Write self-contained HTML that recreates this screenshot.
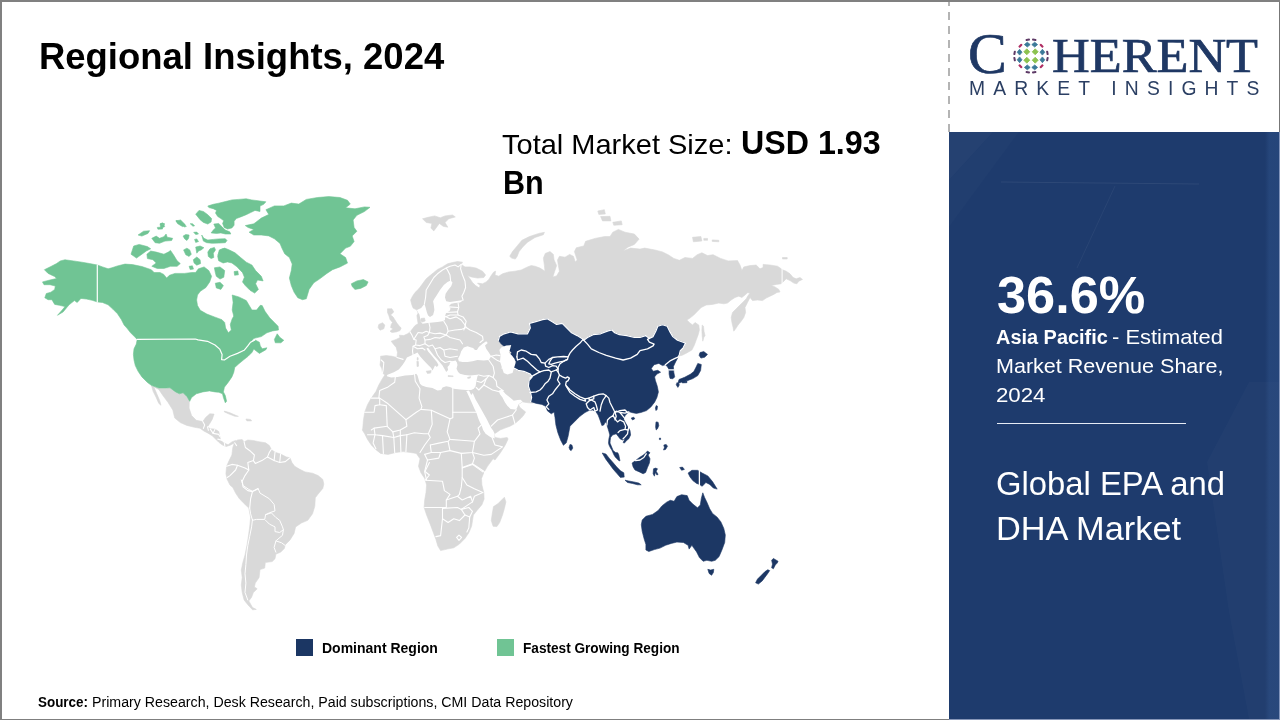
<!DOCTYPE html>
<html lang="en">
<head>
<meta charset="utf-8">
<title>Regional Insights, 2024</title>
<style>
html,body{margin:0;padding:0;}
body{width:1280px;height:720px;overflow:hidden;background:#fff;position:relative;font-family:"Liberation Sans",sans-serif;color:#000;}
.abs{position:absolute;white-space:nowrap;transform-origin:0 0;line-height:1;}
#bt{left:0;top:0;width:1280px;height:2px;background:#808080;}
#bl{left:0;top:0;width:2px;height:720px;background:#808080;}
#br1{left:1278.8px;top:0;width:1.2px;height:132px;background:#777;}
#br2{left:1278.8px;top:132px;width:1.2px;height:588px;background:#8093ba;}
#strip{left:1265px;top:132px;width:14px;height:586.5px;background:linear-gradient(to right,rgba(60,100,160,0),rgba(60,100,160,0.25) 30%,rgba(60,100,160,0.25));}
#bb{left:0;top:718.5px;width:949px;height:1.5px;background:#7f7f7f;}
#bb2{left:949px;top:718.5px;width:331px;height:1.5px;background:#8796b8;}
#panel{left:949px;top:132px;width:331px;height:586.5px;background:#1e3b6d;}
#dash{left:948px;top:0;width:2px;height:132px;background:repeating-linear-gradient(to bottom,#b4b4b4 0,#b4b4b4 8.5px,transparent 8.5px,transparent 14px);background-position:0 -2px;}
.w{color:#fff;}
#title{font-weight:bold;}
.lg{font-family:"Liberation Serif",serif;color:#1f3864;-webkit-text-stroke:0.7px #1f3864;}
#lgC{left:968px;top:24.7px;font-size:58px;}
#lgH{left:1051.9px;top:32.2px;font-size:48.5px;transform:scaleX(1.077);}
#lgM{left:969px;top:78.5px;font-size:19.3px;letter-spacing:8.14px;color:#2b3f63;}
#globe{left:1010.6px;top:35.9px;}
#title{left:38.97px;top:38.16px;font-size:37.38px;transform:scaleX(0.9754);}
#tms1a{left:501.78px;top:130.29px;font-size:28.48px;transform:scaleX(1.0188);}
#tms1b{left:740.82px;top:126.83px;font-size:32.57px;transform:scaleX(0.9884);}
#tms2{left:503.12px;top:166.83px;font-size:32.57px;transform:scaleX(0.9385);}
#pct{left:996.78px;top:269.76px;font-size:51.44px;transform:scaleX(1.0175);}
#ap1a{left:995.76px;top:325.8px;font-size:21.14px;transform:scaleX(0.9427);}
#ap1b{left:1111.76px;top:325.8px;font-size:21.14px;transform:scaleX(1.0375);}
#ap2{left:995.66px;top:354.8px;font-size:21.14px;transform:scaleX(1.0196);}
#ap3{left:996.15px;top:383.8px;font-size:21.14px;transform:scaleX(1.0533);}
#gl1{left:995.75px;top:467.93px;font-size:32.8px;transform:scaleX(0.9998);}
#gl2{left:995.86px;top:512.93px;font-size:32.8px;transform:scaleX(1.0466);}
#lt1{left:322.02px;top:640.75px;font-size:14.24px;transform:scaleX(0.9836);}
#lt2{left:522.54px;top:640.75px;font-size:14.24px;transform:scaleX(0.9562);}
#srca{left:38.36px;top:694.75px;font-size:14.24px;transform:scaleX(0.9431);}
#srcb{left:92.0px;top:694.75px;font-size:14.24px;transform:scaleX(0.9967);}
#hr{left:997px;top:422.6px;width:189px;height:1.4px;background:#e6ebf5;}
#lg1{left:296px;top:639px;width:17px;height:17px;background:#1b3663;}
#lg2{left:497px;top:639px;width:17px;height:17px;background:#70c494;}
</style>
</head>
<body>
<div class="abs" id="panel"></div>
<svg class="abs" id="tex" style="left:949px;top:132px" width="331" height="587" viewBox="0 0 331 587">
<polygon points="0,0 44,0 0,48" fill="#fff" fill-opacity="0.03"/>
<polygon points="0,48 44,0 70,0 0,95" fill="#fff" fill-opacity="0.015"/>
<line x1="52" y1="50" x2="250" y2="52" stroke="#fff" stroke-opacity="0.07" stroke-width="1"/>
<line x1="166" y1="54" x2="128" y2="136" stroke="#fff" stroke-opacity="0.05" stroke-width="1"/>
<polygon points="258,330 300,250 331,250 331,587 300,587 280,480" fill="#fff" fill-opacity="0.02"/>
</svg>
<div class="abs" id="dash"></div>

<!--MAPSTART--><svg class="abs" id="map" style="left:0;top:0" width="949" height="720" viewBox="0 0 949 720">
<path d="M151.3,385.6 L158.8,388.4 L166.3,388.4 L170.0,387.9 L175.6,392.2 L179.4,394.1 L183.1,393.1 L186.9,396.9 L189.3,401.0 L189.1,408.1 L191.6,415.6 L196.3,420.3 L202.8,421.6 L205.6,417.5 L209.8,413.8 L214.1,414.1 L212.2,419.4 L209.4,424.1 L207.5,426.9 L210.3,428.8 L215.0,429.1 L218.8,431.6 L219.7,436.3 L220.6,440.0 L223.4,442.8 L228.1,444.7 L231.9,441.9 L235.6,440.4 L234.7,442.8 L230.0,445.3 L226.3,446.4 L222.5,445.1 L218.8,442.3 L215.0,438.5 L212.2,435.7 L207.5,432.9 L203.8,431.0 L200.0,428.2 L194.4,427.3 L186.9,425.4 L180.3,422.6 L174.7,417.9 L172.8,410.0 L168.1,402.5 L162.5,395.0 L158.8,389.4Z M151.6,386.0 L154.1,387.5 L156.9,394.1 L159.7,400.6 L161.0,405.3 L158.8,403.4 L155.9,396.9 L153.1,391.3Z M224.4,411.1 L230.0,412.8 L235.6,415.3 L238.4,416.4 L234.7,416.2 L229.1,414.1 L224.4,411.9Z M245.9,419.0 L250.6,419.4 L251.6,420.9 L246.9,420.9Z M234.7,441.9 L237.5,440.0 L242.2,439.6 L244.1,441.9 L247.8,440.0 L252.5,440.4 L260.0,441.9 L265.6,442.8 L269.4,445.6 L271.3,449.4 L275.0,452.2 L280.6,454.1 L286.3,456.9 L290.0,457.8 L291.9,462.5 L294.7,466.3 L299.4,469.1 L305.0,471.9 L312.5,473.2 L318.1,475.6 L322.8,479.4 L323.8,484.1 L322.8,488.4 L318.1,494.1 L315.3,497.8 L314.8,506.3 L312.5,513.8 L307.8,520.3 L301.3,523.1 L295.6,526.9 L294.1,533.4 L290.0,540.0 L285.3,544.7 L284.4,548.4 L280.6,552.2 L275.9,554.1 L275.0,558.8 L272.2,561.6 L265.3,562.5 L264.7,568.1 L260.0,569.6 L259.1,577.5 L255.3,583.1 L254.4,586.9 L257.2,588.8 L253.4,592.5 L251.6,597.2 L248.8,600.9 L252.5,607.5 L256.3,609.4 L252.5,609.8 L247.8,604.7 L244.1,600.0 L242.2,592.5 L241.3,585.0 L242.2,577.5 L241.3,570.0 L242.8,562.5 L245.0,555.0 L246.9,545.6 L248.4,536.3 L249.7,526.9 L250.6,517.5 L248.8,508.1 L245.0,504.4 L239.4,498.8 L235.6,493.1 L232.8,487.5 L230.0,485.1 L227.2,479.4 L225.9,473.8 L226.6,466.3 L229.1,460.6 L231.9,455.0 L232.8,447.5Z M387.5,374.0 L385.0,375.0 L382.5,373.1 L381.9,368.8 L380.0,365.0 L380.6,360.0 L380.6,356.2 L386.2,355.6 L391.9,356.2 L396.9,357.5 L397.5,352.5 L396.2,347.5 L393.1,343.8 L391.2,341.2 L396.2,339.4 L400.0,337.5 L399.4,335.2 L403.8,335.6 L407.5,333.8 L410.0,331.9 L412.5,328.8 L415.0,325.6 L418.1,323.8 L417.5,320.0 L416.9,315.6 L418.1,313.1 L416.9,310.0 L413.1,308.1 L411.9,305.0 L410.6,300.0 L412.5,296.2 L415.0,292.5 L418.8,288.8 L422.5,283.8 L426.2,278.8 L430.0,275.6 L433.8,272.5 L437.5,269.4 L442.5,266.9 L447.5,263.8 L452.5,262.5 L457.5,261.5 L462.5,262.2 L461.2,264.4 L465.0,266.9 L470.0,266.9 L476.2,268.1 L482.5,271.2 L485.6,275.0 L483.8,277.5 L477.5,278.1 L471.2,276.9 L467.5,275.6 L470.0,278.8 L472.5,282.5 L475.6,285.6 L479.4,288.1 L480.0,285.6 L477.5,283.1 L482.5,283.8 L486.2,281.9 L488.8,279.4 L491.2,275.6 L493.8,271.9 L495.6,271.2 L495.0,275.0 L498.8,276.2 L502.5,273.8 L508.8,271.9 L515.0,271.2 L521.2,270.0 L527.5,266.9 L531.2,265.6 L535.0,266.2 L540.0,268.1 L545.0,271.2 L544.4,265.6 L543.4,258.1 L545.3,253.4 L550.0,251.6 L553.4,254.4 L554.1,260.0 L556.6,265.6 L554.7,271.3 L552.8,276.9 L556.6,275.9 L559.4,271.3 L558.4,265.6 L557.5,260.0 L559.4,256.3 L565.0,257.2 L569.7,254.4 L573.4,256.3 L575.3,261.9 L577.2,260.0 L574.4,251.6 L576.3,247.8 L583.8,245.9 L585.6,241.3 L595.0,238.4 L604.4,236.6 L610.0,236.6 L612.8,232.2 L618.4,229.4 L625.0,232.2 L634.4,234.1 L639.1,239.1 L634.4,244.4 L627.8,247.2 L623.1,250.9 L630.6,248.1 L640.0,249.1 L644.7,248.1 L655.0,250.0 L662.5,251.9 L668.1,254.7 L673.8,258.4 L679.4,260.3 L685.0,257.5 L692.5,258.4 L697.2,254.7 L701.9,252.8 L707.5,255.6 L713.1,254.7 L720.6,258.4 L728.1,260.9 L737.5,260.6 L740.0,265.0 L741.9,270.6 L743.8,266.9 L750.0,265.6 L756.2,265.0 L760.0,268.8 L763.1,267.5 L763.1,264.4 L770.0,265.0 L777.5,266.2 L781.2,268.8 L783.1,270.0 L786.2,271.2 L790.0,273.8 L793.1,277.5 L796.2,278.8 L800.0,277.5 L802.5,279.4 L798.8,281.2 L796.9,283.8 L793.8,283.1 L790.0,280.6 L786.2,278.8 L783.8,281.2 L781.2,283.8 L776.2,284.4 L771.2,285.6 L775.0,286.9 L778.8,289.4 L780.0,291.9 L776.9,292.5 L773.8,294.4 L770.0,296.2 L766.2,298.1 L762.5,300.6 L757.5,300.0 L752.5,300.6 L750.0,297.5 L747.5,302.5 L745.0,307.5 L745.6,312.5 L743.8,317.5 L741.2,321.2 L738.1,325.0 L735.6,328.8 L733.8,331.2 L733.1,327.5 L731.9,322.5 L731.2,317.5 L732.5,312.5 L736.2,308.8 L740.0,305.0 L743.1,301.9 L746.2,298.8 L748.1,295.6 L750.0,293.1 L747.5,292.8 L745.0,295.0 L741.9,297.5 L738.8,296.2 L735.0,297.5 L731.2,300.0 L727.5,303.1 L723.8,303.8 L718.8,303.1 L712.5,304.4 L706.2,305.0 L701.2,307.5 L697.5,311.2 L693.8,315.0 L690.0,318.1 L686.9,320.0 L689.4,322.5 L692.5,325.0 L695.0,322.5 L698.8,325.0 L699.4,330.0 L698.1,335.0 L696.2,340.0 L694.4,345.0 L691.9,350.0 L685.9,353.4 L682.2,355.3 L679.0,355.9 L664,352 L636,375 L545,395 L533.1,403.1 L531.2,403.1 L526.2,402.5 L522.2,401.8 L520.0,403.4 L518.4,404.5 L520.0,407.5 L523.1,410.0 L525.6,411.9 L523.8,415.0 L521.2,418.1 L515.6,423.1 L510.0,426.2 L505.0,428.1 L500.0,430.0 L498.8,430.9 L494.1,434.1 L495.0,437.5 L500.6,438.4 L507.2,437.5 L508.1,439.0 L505.3,445.0 L500.6,452.5 L495.0,460.0 L493.1,458.8 L487.5,466.3 L483.8,472.8 L481.5,478.4 L481.9,485.0 L483.8,492.5 L484.1,499.1 L481.9,504.7 L477.2,510.3 L473.4,515.0 L472.5,520.6 L471.6,526.3 L468.8,532.8 L465.0,538.4 L459.4,544.1 L453.8,547.8 L447.2,549.1 L440.6,550.6 L437.8,545.9 L435.9,539.4 L433.1,531.9 L430.3,524.4 L426.6,515.0 L424.1,507.5 L424.7,500.0 L426.0,492.5 L426.6,485.0 L424.7,478.4 L420.9,472.8 L418.5,466.3 L420.0,458.8 L416.3,453.4 L410.6,452.5 L403.1,451.6 L395.6,452.5 L388.1,454.4 L380.6,453.4 L375.9,449.7 L371.3,445.0 L367.5,439.4 L364.7,433.8 L362.3,430.0 L362.8,428.1 L363.4,420.6 L364.7,412.2 L367.5,404.7 L371.3,398.1 L375.9,391.6 L378.8,385.0 L382.5,378.4 L386.3,372.8Z M504.4,497.2 L505.9,501.9 L504.4,508.4 L502.5,515.0 L499.7,522.5 L496.9,526.6 L493.1,526.3 L491.3,520.6 L492.2,514.1 L493.5,506.6 L497.8,503.8 L501.6,500.0Z M378.8,324.4 L382.5,322.8 L384.8,325.0 L383.8,328.8 L380.0,330.2 L378.1,327.5Z M387.5,308.8 L391.9,308.8 L393.8,311.9 L390.6,315.0 L393.1,316.9 L395.0,320.0 L396.9,323.1 L399.4,326.2 L401.2,328.1 L400.0,330.6 L396.2,331.9 L391.9,332.5 L390.0,331.2 L393.1,328.8 L390.6,327.5 L391.2,324.4 L392.5,322.5 L390.0,319.4 L388.8,315.6 L387.5,312.5Z M509.7,256.3 L512.5,251.6 L517.2,245.9 L521.9,240.3 L529.4,236.6 L538.8,233.4 L544.4,232.3 L543.4,234.7 L535.0,237.5 L527.5,242.2 L522.8,246.9 L519.1,251.6 L517.2,256.3 L515.3,259.1 L511.6,258.1Z M422.5,218.8 L428.1,217.3 L434.7,215.9 L440.3,217.8 L445.0,215.9 L452.5,215.0 L455.3,216.9 L448.8,218.8 L445.0,222.5 L447.8,227.2 L443.1,226.3 L439.4,223.4 L436.6,227.2 L433.8,230.9 L430.9,228.1 L431.9,223.4 L426.3,222.5Z M597.8,211.0 L604.4,209.7 L605.3,214.0 L598.8,214.4Z M600.6,216.6 L610.0,216.3 L610.9,220.9 L602.5,220.9Z M612.8,222.3 L621.3,220.9 L622.2,224.7 L613.8,225.3Z M692.5,237.3 L700.9,236.5 L701.9,241.0 L693.4,241.8Z M703.8,238.4 L707.5,238.4 L707.5,240.3 L703.8,240.3Z M712.2,239.9 L718.8,240.3 L718.8,241.8 L712.2,241.4Z M782.5,257.5 L787.2,257.5 L787.2,259.0 L782.5,259.0Z M702.2,325.0 L703.5,326.2 L704.0,331.2 L705.0,335.6 L703.8,337.5 L702.8,341.2 L702.2,336.2 L701.9,330.0Z" fill="#d9d9d9" stroke="#d9d9d9" stroke-width="0.6" stroke-linejoin="round"/>
<path d="M245.3,225.6 L253.8,223.8 L261.3,218.1 L268.8,214.4 L265.9,209.7 L274.4,205.9 L283.8,205.9 L291.3,203.1 L298.8,204.1 L306.3,199.4 L317.5,197.5 L328.8,196.6 L340.0,197.5 L347.5,200.3 L350.3,204.1 L345.6,207.8 L355.0,208.8 L364.4,206.9 L370.0,207.3 L364.4,211.6 L356.9,215.3 L353.1,220.0 L354.1,227.5 L356.9,231.3 L352.2,235.9 L354.1,241.6 L350.3,246.3 L345.6,248.1 L340.0,253.8 L345.6,257.5 L347.5,263.1 L340.0,266.9 L332.5,269.7 L326.9,273.4 L319.4,279.1 L313.8,282.8 L309.1,289.4 L306.3,298.8 L302.5,299.7 L297.8,297.8 L294.1,292.2 L291.3,285.6 L289.4,278.1 L291.3,270.6 L292.2,264.1 L289.4,257.5 L284.7,253.8 L281.9,248.1 L280.0,243.4 L274.4,238.8 L268.8,235.9 L261.3,235.0 L253.8,235.0 L249.1,232.2 L253.8,229.4 L248.1,227.5Z M351.3,283.8 L356.9,280.9 L363.4,279.6 L368.1,281.9 L366.3,285.6 L360.6,288.4 L355.0,289.4 L352.2,286.6Z M220.0,250.0 L224.7,248.1 L229.4,250.0 L235.0,252.8 L240.6,257.5 L246.3,262.2 L251.9,265.0 L255.6,270.6 L261.3,276.3 L263.1,280.9 L257.5,280.0 L255.6,283.8 L258.4,289.4 L254.7,293.1 L250.0,290.3 L245.3,285.6 L242.5,281.9 L244.4,277.2 L242.5,272.5 L238.8,268.8 L235.0,263.1 L229.4,259.4 L223.8,262.2 L219.1,260.3 L218.1,254.7Z M131.0,254.2 L133.7,246.0 L139.2,244.4 L147.4,246.6 L150.7,248.8 L146.3,251.0 L141.9,254.2 L136.5,258.1Z M146.9,254.2 L150.7,251.0 L156.2,252.1 L163.9,254.2 L168.3,252.1 L170.5,250.4 L173.8,255.3 L177.1,260.8 L180.3,263.6 L177.1,266.3 L170.5,266.3 L163.9,268.5 L157.3,268.5 L151.8,266.3 L156.2,263.0 L152.9,259.7 L147.4,258.6Z M138.1,235.0 L143.6,231.2 L149.6,230.7 L148.0,233.4 L141.9,236.1Z M151.8,238.3 L156.2,236.1 L159.5,238.3 L163.9,236.7 L166.1,234.0 L167.2,237.2 L172.7,238.3 L171.6,240.5 L165.0,241.1 L159.5,243.3 L155.1,242.7Z M157.3,227.4 L162.2,227.0 L162.6,229.0 L157.9,229.2Z M160.6,223.7 L164.4,223.5 L164.4,224.8 L160.8,225.1Z M176.0,220.5 L179.2,221.3 L183.6,224.1 L186.4,226.3 L184.7,227.0 L180.3,224.6 L177.1,222.4Z M190.2,223.7 L192.4,223.7 L194.6,225.7 L193.0,226.3Z M195.7,214.2 L199.0,210.4 L203.4,211.5 L207.8,214.7 L211.6,218.6 L211.1,221.9 L207.8,224.1 L203.4,222.4 L200.1,219.7 L197.9,216.9Z M207.8,206.0 L213.3,204.3 L218.7,203.2 L225.3,201.6 L231.9,199.9 L238.5,199.4 L246.2,198.8 L251.7,199.9 L260.0,201.0 L265.9,201.8 L263.7,204.3 L260.0,206.0 L260.0,211.5 L255.0,210.4 L250.6,212.6 L246.2,214.7 L240.7,216.9 L236.3,218.6 L234.1,221.3 L234.1,225.2 L231.9,227.9 L227.5,229.0 L224.2,227.4 L222.6,223.5 L223.7,220.8 L220.9,218.6 L217.7,216.4 L215.5,213.1 L216.6,210.4 L213.3,208.7 L208.9,207.6Z M213.8,224.1 L218.7,223.5 L222.0,226.8 L225.3,230.1 L229.7,231.8 L230.8,234.0 L225.3,234.0 L220.9,232.9 L216.6,233.4 L211.1,232.9 L213.3,230.1 L215.5,227.9Z M201.7,235.0 L203.9,238.3 L207.8,240.0 L213.3,239.4 L218.7,238.9 L225.3,238.7 L227.0,240.5 L225.3,242.7 L218.7,243.1 L212.2,243.3 L206.7,242.7 L203.4,241.1Z M183.1,236.1 L185.8,234.5 L189.1,235.0 L188.6,238.3 L186.9,240.5 L184.7,238.9Z M194.6,239.4 L196.8,238.9 L198.5,241.6 L195.7,242.4Z M193.7,232.3 L196.8,232.1 L198.5,234.0 L195.7,234.5Z M183.6,249.9 L186.9,248.2 L189.7,249.9 L191.3,254.2 L189.1,256.4 L185.8,254.8Z M195.7,247.1 L200.1,246.0 L203.9,247.7 L201.2,249.9 L198.5,251.0 L196.8,253.2Z M193.3,259.7 L196.8,257.0 L200.1,259.7 L200.6,263.6 L196.8,265.2 L194.1,263.0Z M207.8,252.1 L210.0,248.8 L214.4,247.4 L215.5,249.9 L213.3,253.2 L213.8,257.5 L211.1,258.6 L208.3,256.4Z M219.3,249.9 L223.1,248.5 L225.9,249.9 L227.0,254.2 L229.7,256.4 L234.1,257.5 L238.5,260.8 L242.9,264.1 L247.3,267.4 L251.7,270.7 L255.0,274.0 L244.0,274.0 L240.7,269.6 L236.3,266.3 L231.9,263.0 L227.5,261.9 L223.1,263.0 L218.7,260.8 L217.7,256.4Z M189.1,266.3 L192.4,265.8 L193.5,269.1 L190.2,269.6Z M214.4,267.8 L220.0,266.9 L224.7,270.6 L223.8,277.2 L220.0,279.1 L216.3,276.3 L215.3,272.5Z M215.3,283.2 L220.0,282.3 L223.4,285.6 L220.9,289.4 L216.3,287.9Z M97.3,265.0 L89.4,263.5 L81.9,262.2 L73.4,260.9 L65.0,259.8 L60.3,260.9 L56.6,263.5 L50.9,266.5 L44.4,269.7 L48.1,273.4 L54.7,276.6 L56.6,278.5 L50.0,280.0 L42.5,281.9 L44.0,284.7 L50.0,284.7 L55.3,286.0 L54.7,289.4 L50.9,292.2 L46.3,293.5 L44.8,297.8 L48.1,299.7 L51.9,299.7 L54.7,304.4 L59.4,305.3 L65.0,306.6 L62.2,310.0 L57.5,315.3 L63.1,311.9 L69.1,304.8 L74.4,300.6 L77.2,302.5 L80.9,298.4 L86.6,299.1 L92.2,300.3 L97.3,301.9 L102.5,302.5 L108.1,304.8 L112.8,309.1 L117.5,313.8 L121.3,319.4 L124.1,325.0 L126.9,328.1 L130.6,332.8 L134.4,336.6 L137.2,339.4 L136.3,344.1 L134.0,348.8 L133.4,354.4 L134.0,360.0 L135.3,365.6 L138.1,371.3 L141.9,376.9 L147.5,382.5 L151.3,385.3 L158.8,388.1 L166.3,388.1 L170.0,387.8 L175.6,391.9 L179.4,393.8 L183.1,392.8 L186.9,396.6 L189.7,401.3 L191.6,397.5 L196.3,393.8 L202.8,391.9 L209.4,390.9 L215.0,391.9 L218.8,392.3 L222.5,393.8 L223.4,397.5 L225.3,402.8 L226.6,401.3 L225.3,395.6 L223.4,391.9 L224.4,387.2 L228.1,382.5 L231.9,376.9 L233.8,372.2 L234.7,367.5 L238.8,363.8 L243.4,360.0 L248.1,356.3 L251.9,352.5 L253.8,349.1 L259.4,353.4 L265.9,349.7 L266.9,347.8 L262.2,348.8 L260.3,345.9 L259.4,342.2 L255.6,340.3 L250.0,342.8 L253.8,338.4 L261.3,336.6 L266.9,332.8 L272.5,330.9 L278.5,330.0 L278.1,326.3 L274.4,322.5 L269.7,317.8 L265.0,311.3 L262.2,305.6 L260.3,305.3 L256.6,310.0 L251.9,310.0 L249.1,305.3 L246.3,300.6 L238.8,296.9 L232.2,295.0 L233.1,302.5 L232.2,310.0 L234.1,317.5 L235.0,325.0 L235.9,307.5 L235.0,314.1 L232.2,318.8 L230.3,324.4 L231.3,330.0 L228.4,332.8 L225.6,328.1 L224.7,322.5 L221.9,319.7 L214.4,316.9 L206.9,314.1 L200.3,310.3 L197.5,305.6 L196.6,300.0 L197.5,295.0 L200.3,291.3 L205.9,287.5 L209.7,281.9 L211.6,276.3 L208.8,270.6 L204.1,266.9 L198.4,268.8 L195.6,272.5 L191.9,272.5 L184.4,273.4 L175.0,273.4 L169.4,275.3 L166.6,278.1 L163.8,274.4 L160.0,272.5 L154.1,272.5 L151.3,269.7 L141.9,266.5 L132.5,264.6 L125.0,264.1 L117.5,265.9 L111.9,267.8 L108.1,268.8 L102.5,266.9Z M274.4,339.4 L277.2,333.8 L280.0,337.5 L283.8,340.3 L280.9,342.8 L275.3,342.8Z M160.0,223.8 L162.8,222.8 L164.7,226.6 L160.9,228.4Z M175.9,220.9 L180.6,220.0 L185.3,224.7 L182.5,226.6 L177.8,223.8Z M234.1,271.6 L237.8,271.0 L238.4,274.8 L234.6,275.3Z" fill="#70c494" stroke="#70c494" stroke-width="0.6" stroke-linejoin="round"/>
<path d="M499.4,336.6 L504.1,333.8 L510.6,331.9 L518.1,333.8 L527.5,333.8 L530.3,328.1 L529.4,323.4 L535.9,321.6 L542.5,319.7 L547.2,318.8 L551.9,321.6 L556.6,324.4 L562.2,323.4 L566.9,328.1 L571.6,332.8 L577.2,335.6 L581.9,338.4 L583.8,340.3 L587.5,337.5 L593.1,334.7 L600.6,333.8 L608.1,330.9 L611.9,330.0 L614.7,332.8 L619.4,334.7 L626.9,335.6 L634.4,337.5 L640.0,337.5 L645.6,335.6 L649.4,338.4 L653.1,336.6 L655.9,330.9 L657.8,326.3 L662.5,324.8 L667.2,326.3 L670.0,331.9 L672.8,336.6 L677.5,340.3 L683.1,342.2 L685.6,343.1 L683.1,347.8 L680.3,350.6 L679.4,354.4 L678.1,357.2 L675.6,361.9 L673.4,366.6 L673.8,372.2 L674.7,376.9 L672.8,378.8 L670.0,378.4 L669.1,374.1 L669.1,369.4 L667.2,366.6 L665.3,364.7 L662.5,365.6 L658.8,363.4 L654.1,364.7 L651.3,368.4 L653.1,371.3 L657.8,370.3 L660.6,372.2 L656.9,374.1 L654.6,376.9 L655.4,380.6 L657.3,386.3 L658.4,391.9 L656.9,397.5 L654.6,402.2 L650.9,406.9 L646.6,410.6 L640.9,412.5 L636.3,413.4 L631.6,412.5 L628.8,411.6 L626.9,413.8 L625.0,415.6 L623.8,419.4 L625.6,423.1 L628.1,426.9 L630.0,430.6 L630.6,435.0 L628.8,438.8 L626.9,440.2 L624.4,443.1 L623.1,442.5 L625.0,438.8 L622.5,440.0 L620.0,438.8 L618.1,436.2 L616.2,433.8 L612.5,435.0 L610.6,437.5 L610.2,440.6 L610.0,443.1 L611.9,447.5 L613.1,450.6 L615.6,452.5 L617.8,452.8 L618.8,455.0 L619.4,458.1 L620.0,460.9 L618.8,460.6 L616.9,458.8 L615.2,456.9 L614.0,455.0 L613.0,452.8 L611.8,450.0 L610.5,448.1 L609.0,445.0 L608.5,443.1 L608.9,438.8 L609.8,435.0 L608.8,431.2 L607.5,426.9 L606.2,423.1 L605.2,421.9 L603.8,425.0 L601.9,425.6 L600.0,420.0 L598.1,415.0 L595.6,411.2 L592.5,410.0 L588.8,410.6 L585.0,412.5 L580.0,416.2 L575.0,421.2 L570.0,426.2 L568.1,436.3 L566.3,442.8 L563.4,445.3 L560.6,440.0 L557.8,432.5 L555.9,425.0 L555.0,417.5 L554.1,411.9 L551.3,413.8 L547.5,410.9 L545.6,406.3 L541.9,404.4 L536.3,403.4 L530.6,401.6 L531.6,397.5 L530.3,391.9 L528.4,386.3 L529.0,380.6 L532.2,376.9 L530.3,374.1 L523.8,371.3 L518.1,370.3 L514.4,368.4 L513.4,364.7 L516.3,361.9 L514.4,359.1 L509.7,356.3 L511.6,352.5 L508.8,349.7 L505.0,346.9 L501.3,344.1 L498.4,340.3Z M631.2,418.1 L633.8,417.2 L634.8,418.8 L632.5,420.0Z M656.2,405.6 L657.5,406.2 L657.1,409.4 L656.0,410.6 L655.4,408.1Z M656.0,421.9 L658.1,422.2 L658.8,425.6 L657.5,428.8 L656.2,430.0 L655.6,426.9Z M663.8,445.0 L666.2,444.4 L667.5,446.2 L665.6,449.4 L663.5,450.0 L664.4,447.5Z M659.4,438.1 L660.6,438.1 L660.6,439.6 L659.4,439.6Z M570.0,444.4 L571.9,445.0 L572.8,448.1 L571.2,450.6 L570.0,450.0 L569.0,447.5Z M602.2,453.0 L605.9,454.0 L609.2,458.2 L613.0,462.6 L616.8,467.0 L620.5,470.8 L623.8,472.8 L624.2,477.1 L620.4,477.4 L617.0,473.6 L613.2,469.2 L609.5,464.2 L605.8,459.2Z M625.0,480.2 L628.8,481.0 L633.8,481.9 L638.8,483.1 L641.2,484.8 L637.5,484.8 L632.5,483.5 L627.5,482.5Z M632.1,463.1 L635.6,460.6 L639.4,457.5 L642.5,455.6 L645.0,453.8 L647.5,451.0 L650.0,452.8 L648.1,455.0 L650.0,458.8 L649.4,463.1 L647.5,467.5 L645.6,472.5 L643.1,473.8 L639.4,471.9 L635.0,470.0 L633.1,466.9Z M653.5,468.8 L655.6,468.1 L657.5,468.8 L656.2,471.2 L658.1,474.4 L656.9,475.0 L655.4,472.5 L654.4,476.2 L653.1,473.8Z M688.1,473.1 L691.9,470.3 L697.5,470.3 L702.2,473.1 L707.8,475.9 L712.5,481.6 L717.2,489.1 L713.4,488.1 L709.7,484.4 L705.9,482.5 L702.2,486.3 L699.4,484.4 L696.6,483.4 L692.8,480.6 L690.0,476.9Z M679.7,467.5 L682.5,467.1 L684.4,469.4 L681.6,470.3Z M642.2,520.0 L645.9,516.3 L652.5,514.4 L658.1,510.6 L661.9,505.9 L666.6,502.2 L670.3,500.3 L674.1,501.3 L676.9,496.6 L681.6,494.7 L687.2,495.6 L689.1,500.3 L692.8,504.1 L697.5,507.8 L700.3,505.0 L701.3,498.4 L702.8,492.8 L704.6,497.5 L706.9,502.2 L709.7,508.8 L712.5,513.4 L717.2,517.2 L720.9,521.9 L723.8,528.4 L725.3,535.0 L724.7,542.5 L721.9,550.0 L719.1,556.6 L715.3,560.3 L711.6,561.3 L706.9,560.3 L703.1,561.3 L699.4,557.5 L696.6,551.9 L693.8,548.1 L691.9,545.3 L689.1,549.1 L688.1,545.3 L683.4,542.5 L676.9,542.1 L671.3,543.4 L665.6,545.3 L660.0,548.1 L654.4,549.6 L648.8,551.5 L645.9,550.0 L645.9,544.4 L644.1,538.8 L642.2,531.3 L641.3,524.7Z M707.8,569.3 L710.6,570.1 L713.8,569.3 L713.4,572.5 L711.6,575.3 L709.1,573.4Z M771.6,560.3 L773.4,558.4 L778.1,561.3 L777.2,563.1 L775.3,565.0 L773.4,568.8 L771.6,567.8 L772.5,564.1Z M769.7,570.6 L767.8,573.4 L765.0,577.2 L762.2,580.9 L758.4,584.1 L755.6,582.8 L757.5,579.1 L761.3,575.3 L765.0,571.6 L767.8,569.7Z M700.0,352.5 L703.8,351.6 L707.5,354.4 L704.7,357.2 L700.9,358.1 L699.1,355.3Z M697.8,363.4 L701.3,364.5 L700.6,370.5 L697.8,375.6 L692.9,378.6 L688.0,380.4 L683.1,381.4 L679.4,383.1 L677.5,384.8 L679.0,379.5 L684.6,377.3 L690.3,374.3 L693.8,371.6 L696.1,367.1Z M677.1,382.5 L679.4,384.8 L677.9,387.4 L676.2,384.8Z M682.2,381.4 L686.9,381.0 L686.9,382.7 L682.2,382.9Z" fill="#1c3764" stroke="#1c3764" stroke-width="0.6" stroke-linejoin="round"/>
<path d="M386.9,375.4 L387.5,374.8 L393.8,372.2 L398.8,369.4 L402.5,365.0 L405.0,361.2 L406.9,357.5 L411.2,355.6 L415.0,353.8 L417.5,352.5 L420.0,356.2 L423.8,360.6 L428.1,365.0 L431.2,368.1 L432.5,370.6 L433.8,368.1 L435.0,365.6 L436.9,366.9 L438.5,365.0 L436.9,361.9 L434.0,358.5 L431.0,354.8 L428.1,351.5 L426.5,348.5 L428.1,347.8 L430.6,351.2 L433.8,355.6 L437.5,359.4 L440.0,362.5 L442.5,365.6 L444.4,368.8 L446.2,371.9 L448.1,370.0 L447.5,366.9 L449.4,365.0 L450.0,362.5 L452.5,361.2 L455.6,360.6 L456.9,362.5 L457.5,365.0 L456.5,368.8 L458.1,371.9 L460.0,373.8 L465.0,375.0 L470.0,375.6 L475.0,375.0 L478.8,374.4 L477.5,376.2 L476.9,378.8 L476.2,382.5 L475.6,386.2 L473.8,388.8 L471.2,390.0 L466.2,390.0 L460.0,389.4 L453.8,388.8 L450.0,386.9 L446.2,386.2 L442.5,387.5 L441.2,390.0 L437.5,390.6 L432.5,388.1 L426.2,386.9 L421.9,385.6 L420.0,383.8 L418.8,380.0 L417.5,375.6 L416.2,373.8 L412.5,375.0 L405.0,375.6 L397.5,376.9 L391.2,377.5 L386.9,376.2Z M458.1,358.8 L460.0,355.0 L461.2,351.2 L463.8,347.5 L467.5,346.2 L471.2,347.5 L473.1,348.1 L475.0,350.0 L476.9,350.0 L478.8,346.9 L482.5,343.8 L486.2,341.2 L487.8,343.1 L485.0,345.6 L486.2,348.8 L488.8,352.5 L491.2,356.2 L488.8,360.0 L483.8,360.6 L477.5,360.0 L472.5,361.2 L467.5,361.9 L462.5,361.9 L458.8,361.2Z M501.2,347.5 L506.2,345.6 L511.2,345.0 L510.0,349.4 L508.8,352.5 L511.9,355.6 L514.4,358.8 L515.6,363.1 L513.8,368.8 L512.5,373.1 L507.5,374.4 L503.8,373.1 L501.9,367.5 L500.0,361.2 L500.6,355.0 L499.4,350.0Z M466.2,391.0 L467.1,392.5 L469.4,397.5 L471.9,403.1 L474.4,408.8 L476.5,413.1 L478.1,418.1 L480.0,422.5 L481.9,426.2 L483.1,430.0 L485.6,433.8 L490.3,437.1 L494.6,438.6 L494.6,433.8 L493.1,430.4 L491.2,428.1 L489.0,423.8 L486.9,419.4 L484.4,415.0 L481.9,410.6 L478.8,405.0 L475.6,399.4 L473.8,395.6 L472.8,393.1 L471.2,395.0 L470.0,392.5 L469.0,390.6Z M499.0,390.6 L501.9,389.8 L505.6,394.1 L510.0,397.6 L513.8,400.8 L517.5,400.0 L520.6,399.8 L522.5,401.5 L520.2,403.2 L518.5,404.2 L517.0,408.1 L515.0,409.5 L510.6,408.9 L507.5,406.1 L505.0,402.4 L502.5,397.6 L499.8,393.9Z M418.1,312.5 L416.9,310.0 L421.2,308.1 L424.4,303.8 L425.6,307.5 L426.9,312.5 L428.1,315.6 L430.0,316.9 L433.1,315.0 L434.4,310.0 L433.8,305.0 L433.1,301.2 L434.4,298.8 L436.9,295.0 L440.0,290.0 L443.8,285.0 L447.5,281.9 L450.6,280.6 L452.5,282.5 L451.2,286.2 L448.1,290.0 L445.6,293.8 L445.0,297.5 L446.2,301.2 L450.0,301.9 L455.0,301.2 L460.0,300.6 L463.8,300.0 L460.0,302.5 L455.0,303.1 L451.2,303.8 L448.8,306.2 L450.6,308.8 L449.4,311.2 L446.2,312.5 L445.0,316.2 L445.0,320.0 L442.5,321.2 L437.5,321.9 L432.5,322.5 L427.5,323.1 L422.5,323.8 L420.6,321.2 L420.0,317.5 L419.4,314.4Z" fill="#ffffff" stroke="#ffffff" stroke-width="0" stroke-linejoin="round"/>
<path d="M426.2,371.2 L431.2,370.6 L430.6,373.1 L427.5,373.5Z M416.9,361.2 L418.4,361.5 L418.5,366.2 L417.0,366.5Z M417.2,357.5 L418.2,357.8 L418.1,360.2 L417.2,360.0Z M448.1,375.6 L453.1,375.9 L453.1,376.6 L448.1,376.5Z M467.5,377.5 L470.6,376.6 L470.2,378.1 L467.8,378.4Z M421.0,318.5 L424.5,318.0 L425.2,321.0 L422.2,322.0 L420.6,320.8Z" fill="#d9d9d9" stroke="#d9d9d9" stroke-width="0.6" stroke-linejoin="round"/>
<polyline points="97.3,265.0 97.3,301.9" fill="none" stroke="#fff" stroke-width="1.2" stroke-linejoin="round" stroke-linecap="round"/>
<polyline points="137.2,339.4 195.3,339.0 198.1,339.9 207.5,341.3 215.0,345.0 219.7,349.1 222.1,354.4 221.6,359.6 224.4,360.0 230.0,356.3 237.5,353.4 244.1,350.3 247.8,345.9 250.6,342.2 254.4,340.3" fill="none" stroke="#fff" stroke-width="1.2" stroke-linejoin="round" stroke-linecap="round"/>
<polyline points="252.5,519.4 251.6,526.9 249.7,536.3 247.8,545.6 246.5,555.0 245.9,564.4 245.0,573.8 245.9,583.1 245.0,592.5 247.8,600.0" fill="none" stroke="#fff" stroke-width="1.0" stroke-linejoin="round" stroke-linecap="round"/>
<polyline points="241.3,480.0 243.1,485.6 248.8,489.4 252.5,491.3 258.1,488.4 260.0,493.1 269.4,498.8 274.1,504.4 275.0,510.9 269.4,512.8 265.6,514.7 264.7,519.4 256.3,519.4 252.5,520.3 250.6,513.8 249.7,508.1" fill="none" stroke="#fff" stroke-width="1.0" stroke-linejoin="round" stroke-linecap="round"/>
<polyline points="265.6,514.7 271.3,512.8 275.9,517.5 279.7,520.3 282.5,526.9 283.4,529.7 279.7,532.5 275.0,531.6 275.0,526.9 269.4,524.1 265.6,520.3" fill="none" stroke="#fff" stroke-width="1.0" stroke-linejoin="round" stroke-linecap="round"/>
<polyline points="283.4,529.7 282.5,535.3 276.9,540.0 275.9,540.9 281.6,542.8 285.3,545.6" fill="none" stroke="#fff" stroke-width="1.0" stroke-linejoin="round" stroke-linecap="round"/>
<polyline points="275.9,540.9 274.1,547.5 275.9,552.2" fill="none" stroke="#fff" stroke-width="1.0" stroke-linejoin="round" stroke-linecap="round"/>
<polyline points="516.9,356.9 517.5,351.9 521.2,350.0 526.2,351.2 531.2,354.4 536.2,355.0 539.4,358.8 541.2,362.5 545.0,363.1 548.8,359.4 552.5,357.5 557.5,356.9 563.8,356.5 568.1,356.9 570.0,353.1 572.5,350.0 576.2,346.2 580.0,343.1 583.1,339.4" fill="none" stroke="#fff" stroke-width="1.3" stroke-linejoin="round" stroke-linecap="round"/>
<polyline points="516.9,356.9 517.5,360.0 523.1,358.1 527.5,361.2 531.9,365.6 536.9,370.0 540.0,371.9 543.8,370.6 548.8,370.0 551.2,371.9 556.2,370.0 558.1,371.9" fill="none" stroke="#fff" stroke-width="1.3" stroke-linejoin="round" stroke-linecap="round"/>
<polyline points="530.0,378.1 533.1,375.6 537.5,373.1 540.0,371.9" fill="none" stroke="#fff" stroke-width="1.3" stroke-linejoin="round" stroke-linecap="round"/>
<polyline points="551.2,372.5 550.0,378.1 548.1,381.2 545.0,383.8 542.5,387.5 540.0,390.0 536.2,391.9 530.0,392.5" fill="none" stroke="#fff" stroke-width="1.3" stroke-linejoin="round" stroke-linecap="round"/>
<polyline points="545.0,363.1 545.6,366.2 548.8,367.5 552.5,365.6 556.2,366.2 558.1,368.8 556.2,370.0" fill="none" stroke="#fff" stroke-width="1.3" stroke-linejoin="round" stroke-linecap="round"/>
<polyline points="552.5,357.5 550.0,361.2 548.8,363.8 551.2,364.4 555.0,363.1 560.0,361.9 563.8,361.2 567.5,359.4 568.1,356.9" fill="none" stroke="#fff" stroke-width="1.3" stroke-linejoin="round" stroke-linecap="round"/>
<polyline points="567.5,359.4 563.8,361.2 560.0,363.8 558.1,367.5 558.1,371.9 559.4,375.0 562.5,376.9 565.6,378.1 567.5,376.9 569.4,378.1 568.1,380.6 566.2,381.9 565.6,385.0 570.0,390.0 575.0,393.8 580.0,396.9 585.0,398.8 588.8,398.1 593.8,396.2 598.8,394.4 603.1,393.8 606.2,395.6 608.8,398.1 610.0,402.5 611.9,406.2 613.8,410.0 615.0,412.5 620.0,410.6 625.0,410.0 627.5,412.5" fill="none" stroke="#fff" stroke-width="1.3" stroke-linejoin="round" stroke-linecap="round"/>
<polyline points="559.4,375.0 557.5,380.0 560.0,383.8 558.1,386.2 555.0,390.0 552.5,393.8 548.8,396.2 546.9,400.0 548.8,403.8 546.2,406.9 548.8,409.4" fill="none" stroke="#fff" stroke-width="1.3" stroke-linejoin="round" stroke-linecap="round"/>
<polyline points="566.2,386.2 570.0,392.5 575.0,396.2 580.0,399.4 585.6,401.2 585.0,398.8" fill="none" stroke="#fff" stroke-width="1.3" stroke-linejoin="round" stroke-linecap="round"/>
<polyline points="588.8,398.1 589.4,400.2 593.8,398.8 593.8,396.2" fill="none" stroke="#fff" stroke-width="1.3" stroke-linejoin="round" stroke-linecap="round"/>
<polyline points="586.2,403.8 588.8,401.2 591.2,400.0 595.0,401.9 596.2,405.0 597.5,410.0 595.0,411.2 593.8,407.5 590.0,410.0 587.5,407.5 586.2,403.8" fill="none" stroke="#fff" stroke-width="1.3" stroke-linejoin="round" stroke-linecap="round"/>
<polyline points="600.0,411.2 601.2,405.0 603.1,400.0 606.2,395.6" fill="none" stroke="#fff" stroke-width="1.3" stroke-linejoin="round" stroke-linecap="round"/>
<polyline points="615.0,412.5 616.2,416.2 615.0,420.0" fill="none" stroke="#fff" stroke-width="1.3" stroke-linejoin="round" stroke-linecap="round"/>
<polyline points="583.8,340.3 587.5,344.1 591.3,348.8 598.8,352.5 606.3,355.3 615.6,358.1 623.1,360.0 630.6,358.1 637.2,354.4 640.0,350.6 647.5,348.8 653.1,345.9 654.1,344.1 649.4,342.2 647.5,339.4 649.4,338.4" fill="none" stroke="#fff" stroke-width="1.3" stroke-linejoin="round" stroke-linecap="round"/>
<polyline points="665.3,364.7 670.0,360.9 675.6,358.1 678.1,357.2" fill="none" stroke="#fff" stroke-width="1.3" stroke-linejoin="round" stroke-linecap="round"/>
<polyline points="669.1,369.8 674.1,369.8" fill="none" stroke="#fff" stroke-width="1.3" stroke-linejoin="round" stroke-linecap="round"/>
<polyline points="606.9,425.0 607.5,420.0 610.0,417.5 613.1,415.6 615.0,418.8 617.5,421.9 620.0,420.0 623.8,421.9 625.6,426.2 625.0,429.4 620.0,430.6 618.1,432.5" fill="none" stroke="#fff" stroke-width="1.3" stroke-linejoin="round" stroke-linecap="round"/>
<polyline points="613.1,415.6 614.4,412.5 616.2,411.2 620.0,412.5 622.5,415.6 625.6,419.4 627.5,423.1 628.8,426.9 628.1,430.0 627.5,433.8 625.0,436.9 623.1,438.8" fill="none" stroke="#fff" stroke-width="1.3" stroke-linejoin="round" stroke-linecap="round"/>
<polyline points="625.0,429.4 628.1,430.0" fill="none" stroke="#fff" stroke-width="1.3" stroke-linejoin="round" stroke-linecap="round"/>
<polyline points="620.0,412.5 625.0,413.1 628.8,411.9" fill="none" stroke="#fff" stroke-width="1.3" stroke-linejoin="round" stroke-linecap="round"/>
<polyline points="635.6,460.6 640.0,460.0 643.8,457.5 646.2,453.8" fill="none" stroke="#fff" stroke-width="1.3" stroke-linejoin="round" stroke-linecap="round"/>
<polyline points="699.4,470.9 699.4,485.9" fill="none" stroke="#fff" stroke-width="1.3" stroke-linejoin="round" stroke-linecap="round"/>
<polyline points="782.1,267.3 782.1,283.8" fill="none" stroke="#fff" stroke-width="1.0" stroke-linejoin="round" stroke-linecap="round"/>
<polyline points="395.6,374.7 394.7,382.2 388.1,386.9 379.7,390.6 378.8,398.1" fill="none" stroke="#fff" stroke-width="1.1" stroke-linejoin="round" stroke-linecap="round"/>
<polyline points="371.3,398.1 379.7,398.1 379.7,404.7 375.0,405.6 374.1,412.2 364.7,412.2" fill="none" stroke="#fff" stroke-width="1.1" stroke-linejoin="round" stroke-linecap="round"/>
<polyline points="379.7,398.1 388.1,403.8 405.9,419.7 416.3,412.2 420.9,409.4" fill="none" stroke="#fff" stroke-width="1.1" stroke-linejoin="round" stroke-linecap="round"/>
<polyline points="379.7,404.7 386.3,405.6 387.2,426.3 374.1,428.1 371.3,430.0" fill="none" stroke="#fff" stroke-width="1.1" stroke-linejoin="round" stroke-linecap="round"/>
<polyline points="414.4,372.8 415.3,381.3 420.0,388.8 419.1,398.1 421.9,406.6 420.9,409.4 431.3,410.3 450.0,418.8 452.8,417.8 452.8,387.8" fill="none" stroke="#fff" stroke-width="1.1" stroke-linejoin="round" stroke-linecap="round"/>
<polyline points="452.8,412.2 476.3,412.2" fill="none" stroke="#fff" stroke-width="1.1" stroke-linejoin="round" stroke-linecap="round"/>
<polyline points="431.3,410.3 432.2,424.4 428.4,433.8 430.3,437.5 424.7,445.0 420.0,452.5" fill="none" stroke="#fff" stroke-width="1.1" stroke-linejoin="round" stroke-linecap="round"/>
<polyline points="405.9,419.7 406.9,426.3 400.3,430.0 392.8,431.9 387.2,426.3" fill="none" stroke="#fff" stroke-width="1.1" stroke-linejoin="round" stroke-linecap="round"/>
<polyline points="450.0,418.8 447.2,431.9 450.0,439.4 461.3,440.3 474.4,441.3 480.0,433.8 478.1,428.1 483.8,422.5" fill="none" stroke="#fff" stroke-width="1.1" stroke-linejoin="round" stroke-linecap="round"/>
<polyline points="406.9,434.7 414.4,432.8 423.8,433.8 428.4,433.8" fill="none" stroke="#fff" stroke-width="1.1" stroke-linejoin="round" stroke-linecap="round"/>
<polyline points="406.9,434.7 405.9,451.6" fill="none" stroke="#fff" stroke-width="1.1" stroke-linejoin="round" stroke-linecap="round"/>
<polyline points="400.3,430.0 400.3,435.6 406.9,434.7" fill="none" stroke="#fff" stroke-width="1.1" stroke-linejoin="round" stroke-linecap="round"/>
<polyline points="392.8,431.9 393.8,437.5 400.3,435.6" fill="none" stroke="#fff" stroke-width="1.1" stroke-linejoin="round" stroke-linecap="round"/>
<polyline points="400.3,435.6 400.9,452.1" fill="none" stroke="#fff" stroke-width="1.1" stroke-linejoin="round" stroke-linecap="round"/>
<polyline points="393.8,437.5 394.7,452.5" fill="none" stroke="#fff" stroke-width="1.1" stroke-linejoin="round" stroke-linecap="round"/>
<polyline points="382.5,435.6 393.8,437.5" fill="none" stroke="#fff" stroke-width="1.1" stroke-linejoin="round" stroke-linecap="round"/>
<polyline points="382.5,435.6 383.4,453.4" fill="none" stroke="#fff" stroke-width="1.1" stroke-linejoin="round" stroke-linecap="round"/>
<polyline points="374.1,428.1 375.0,434.7 382.5,435.6" fill="none" stroke="#fff" stroke-width="1.1" stroke-linejoin="round" stroke-linecap="round"/>
<polyline points="367.5,434.7 375.0,434.7" fill="none" stroke="#fff" stroke-width="1.1" stroke-linejoin="round" stroke-linecap="round"/>
<polyline points="375.0,434.7 373.1,443.1 375.9,448.8" fill="none" stroke="#fff" stroke-width="1.1" stroke-linejoin="round" stroke-linecap="round"/>
<polyline points="491.3,435.6 495.0,445.0 502.5,446.9 491.3,454.4 483.8,455.3 472.5,452.5" fill="none" stroke="#fff" stroke-width="1.1" stroke-linejoin="round" stroke-linecap="round"/>
<polyline points="430.3,445.0 438.8,443.1 448.1,441.3 450.0,439.4" fill="none" stroke="#fff" stroke-width="1.1" stroke-linejoin="round" stroke-linecap="round"/>
<polyline points="430.3,445.0 431.3,452.5 424.7,454.4" fill="none" stroke="#fff" stroke-width="1.1" stroke-linejoin="round" stroke-linecap="round"/>
<polyline points="450.0,450.6 461.3,453.4 472.5,452.5 474.4,441.3" fill="none" stroke="#fff" stroke-width="1.1" stroke-linejoin="round" stroke-linecap="round"/>
<polyline points="431.3,452.5 440.6,452.5 450.0,450.6 448.1,441.3" fill="none" stroke="#fff" stroke-width="1.1" stroke-linejoin="round" stroke-linecap="round"/>
<polyline points="472.5,452.5 474.4,458.1 472.5,463.8 483.8,471.3 486.6,475.0" fill="none" stroke="#fff" stroke-width="1.1" stroke-linejoin="round" stroke-linecap="round"/>
<polyline points="424.7,454.4 427.5,460.0 438.8,458.1 440.6,452.5" fill="none" stroke="#fff" stroke-width="1.1" stroke-linejoin="round" stroke-linecap="round"/>
<polyline points="427.5,460.0 424.7,471.3 429.4,475.0 425.6,479.7" fill="none" stroke="#fff" stroke-width="1.1" stroke-linejoin="round" stroke-linecap="round"/>
<polyline points="461.3,453.4 462.2,467.5 472.5,463.8" fill="none" stroke="#fff" stroke-width="1.1" stroke-linejoin="round" stroke-linecap="round"/>
<polyline points="425.6,480.3 442.5,481.3 444.4,490.6 450.0,494.4 446.3,500.0 446.3,507.5 424.7,507.5" fill="none" stroke="#fff" stroke-width="1.1" stroke-linejoin="round" stroke-linecap="round"/>
<polyline points="442.5,508.4 442.5,518.8 440.6,535.6 435.9,536.6" fill="none" stroke="#fff" stroke-width="1.1" stroke-linejoin="round" stroke-linecap="round"/>
<polyline points="442.5,508.4 457.5,507.5 461.3,509.4" fill="none" stroke="#fff" stroke-width="1.1" stroke-linejoin="round" stroke-linecap="round"/>
<polyline points="442.5,518.8 448.1,522.5 453.8,518.8 459.4,520.6 465.0,515.0 461.3,509.4" fill="none" stroke="#fff" stroke-width="1.1" stroke-linejoin="round" stroke-linecap="round"/>
<polyline points="446.3,500.0 457.5,496.3 462.2,500.0 470.6,496.3 472.5,501.9 466.9,505.6 461.3,509.4" fill="none" stroke="#fff" stroke-width="1.1" stroke-linejoin="round" stroke-linecap="round"/>
<polyline points="461.3,509.4 468.8,507.5 472.5,511.3 469.7,516.9 465.0,515.0" fill="none" stroke="#fff" stroke-width="1.1" stroke-linejoin="round" stroke-linecap="round"/>
<polyline points="472.5,501.9 474.4,496.3 482.8,492.5" fill="none" stroke="#fff" stroke-width="1.1" stroke-linejoin="round" stroke-linecap="round"/>
<polyline points="469.7,516.9 468.8,528.1 466.9,531.9" fill="none" stroke="#fff" stroke-width="1.1" stroke-linejoin="round" stroke-linecap="round"/>
<polyline points="456.6,537.5 459.0,535.1 461.6,537.5 459.0,540.3 456.6,537.5" fill="none" stroke="#fff" stroke-width="1.1" stroke-linejoin="round" stroke-linecap="round"/>
<polyline points="462.2,468.1 472.5,464.4 482.8,471.9" fill="none" stroke="#fff" stroke-width="1.1" stroke-linejoin="round" stroke-linecap="round"/>
<polyline points="462.2,468.1 462.2,477.5 466.9,485.0 474.4,488.8 482.8,492.5" fill="none" stroke="#fff" stroke-width="1.1" stroke-linejoin="round" stroke-linecap="round"/>
<polyline points="462.2,477.5 461.3,486.9 459.4,494.4 457.5,496.3" fill="none" stroke="#fff" stroke-width="1.1" stroke-linejoin="round" stroke-linecap="round"/>
<polyline points="429.4,462.5 424.7,471.9 426.6,480.3" fill="none" stroke="#fff" stroke-width="1.1" stroke-linejoin="round" stroke-linecap="round"/>
<polyline points="461.2,264.4 460.6,268.8 462.5,275.0 465.0,281.2 465.6,287.5 463.8,292.5 461.9,296.2 463.1,300.0" fill="none" stroke="#fff" stroke-width="1.1" stroke-linejoin="round" stroke-linecap="round"/>
<polyline points="458.1,303.1 458.8,307.5 457.5,311.9 458.1,315.0 463.1,316.9 466.2,321.2 465.0,326.2 463.8,330.0" fill="none" stroke="#fff" stroke-width="1.1" stroke-linejoin="round" stroke-linecap="round"/>
<polyline points="424.4,303.8 425.6,297.5 426.2,290.0 430.0,283.8 433.8,277.5 437.5,273.8 442.5,270.0 446.2,268.1 450.0,266.2 455.0,265.0 458.1,266.9 461.2,264.4" fill="none" stroke="#fff" stroke-width="1.1" stroke-linejoin="round" stroke-linecap="round"/>
<polyline points="450.6,280.6 450.0,275.0 447.5,270.0 446.2,268.1" fill="none" stroke="#fff" stroke-width="1.1" stroke-linejoin="round" stroke-linecap="round"/>
<polyline points="448.8,306.9 458.1,307.5" fill="none" stroke="#fff" stroke-width="1.1" stroke-linejoin="round" stroke-linecap="round"/>
<polyline points="446.2,312.5 457.5,311.9" fill="none" stroke="#fff" stroke-width="1.1" stroke-linejoin="round" stroke-linecap="round"/>
<polyline points="445.0,316.9 450.0,315.0 458.1,315.0" fill="none" stroke="#fff" stroke-width="1.1" stroke-linejoin="round" stroke-linecap="round"/>
<polyline points="396.9,357.5 403.1,359.4" fill="none" stroke="#fff" stroke-width="1.1" stroke-linejoin="round" stroke-linecap="round"/>
<polyline points="410.0,331.9 411.9,335.0 413.8,339.4 416.2,340.0 415.6,345.0 413.1,346.2 412.5,351.2 413.1,355.0" fill="none" stroke="#fff" stroke-width="1.1" stroke-linejoin="round" stroke-linecap="round"/>
<polyline points="428.8,321.9 430.0,327.5 429.4,332.5 427.5,335.6 423.8,336.9 425.0,340.0" fill="none" stroke="#fff" stroke-width="1.1" stroke-linejoin="round" stroke-linecap="round"/>
<polyline points="413.8,339.4 418.1,332.5 422.5,333.1 426.2,331.2 429.4,332.5" fill="none" stroke="#fff" stroke-width="1.1" stroke-linejoin="round" stroke-linecap="round"/>
<polyline points="415.6,345.0 420.0,345.6 425.0,343.8 425.0,340.0 430.0,339.4 435.0,337.5 440.0,338.1 446.2,335.0" fill="none" stroke="#fff" stroke-width="1.1" stroke-linejoin="round" stroke-linecap="round"/>
<polyline points="443.8,321.2 446.9,326.2 448.1,331.2 446.2,335.0 450.0,337.5 455.0,338.8 460.0,340.0 462.5,343.8" fill="none" stroke="#fff" stroke-width="1.1" stroke-linejoin="round" stroke-linecap="round"/>
<polyline points="429.4,332.5 435.0,333.8 440.0,333.1 446.2,335.0" fill="none" stroke="#fff" stroke-width="1.1" stroke-linejoin="round" stroke-linecap="round"/>
<polyline points="448.1,331.2 455.0,330.0 461.2,329.4 466.2,327.5 470.0,330.0 476.2,332.5 482.5,336.2 483.1,340.0 480.0,342.5" fill="none" stroke="#fff" stroke-width="1.1" stroke-linejoin="round" stroke-linecap="round"/>
<polyline points="445.0,316.2 450.0,318.8 456.2,316.9 461.2,320.0 465.0,325.0 466.2,327.5" fill="none" stroke="#fff" stroke-width="1.1" stroke-linejoin="round" stroke-linecap="round"/>
<polyline points="425.0,343.8 428.8,346.2 432.5,345.0 435.0,348.8 440.0,347.5 443.8,350.0 450.0,348.8 457.5,350.0" fill="none" stroke="#fff" stroke-width="1.1" stroke-linejoin="round" stroke-linecap="round"/>
<polyline points="435.0,348.8 437.5,355.0 441.2,360.0 445.0,362.5 450.0,361.2 456.2,363.1" fill="none" stroke="#fff" stroke-width="1.1" stroke-linejoin="round" stroke-linecap="round"/>
<polyline points="443.8,350.0 445.0,356.2 450.0,357.5 457.5,356.2" fill="none" stroke="#fff" stroke-width="1.1" stroke-linejoin="round" stroke-linecap="round"/>
<polyline points="413.1,346.2 417.5,348.8 422.5,348.1 425.0,350.0" fill="none" stroke="#fff" stroke-width="1.1" stroke-linejoin="round" stroke-linecap="round"/>
<polyline points="381.2,360.0 383.8,362.5 383.1,370.0 382.5,373.1" fill="none" stroke="#fff" stroke-width="1.1" stroke-linejoin="round" stroke-linecap="round"/>
<polyline points="488.8,360.0 493.1,366.2 494.4,373.1 493.1,377.5" fill="none" stroke="#fff" stroke-width="1.1" stroke-linejoin="round" stroke-linecap="round"/>
<polyline points="478.8,375.0 483.8,376.2 488.8,375.6 493.1,377.5 496.2,381.2 496.9,386.2 503.1,390.6" fill="none" stroke="#fff" stroke-width="1.1" stroke-linejoin="round" stroke-linecap="round"/>
<polyline points="476.9,381.2 481.2,382.5 486.2,378.8 488.8,375.6" fill="none" stroke="#fff" stroke-width="1.1" stroke-linejoin="round" stroke-linecap="round"/>
<polyline points="476.2,387.5 478.8,390.0 483.8,385.0 486.2,378.8" fill="none" stroke="#fff" stroke-width="1.1" stroke-linejoin="round" stroke-linecap="round"/>
<polyline points="483.8,385.0 492.5,390.0 500.0,391.9 503.1,390.6" fill="none" stroke="#fff" stroke-width="1.1" stroke-linejoin="round" stroke-linecap="round"/>
<polyline points="491.2,426.2 497.5,420.0 505.0,417.5 512.5,415.0 516.2,410.0 515.6,407.5" fill="none" stroke="#fff" stroke-width="1.1" stroke-linejoin="round" stroke-linecap="round"/>
<polyline points="512.5,415.0 515.0,423.8" fill="none" stroke="#fff" stroke-width="1.1" stroke-linejoin="round" stroke-linecap="round"/>
<polyline points="491.2,356.2 497.5,360.6 502.5,362.5 503.8,367.5 501.9,368.1" fill="none" stroke="#fff" stroke-width="1.1" stroke-linejoin="round" stroke-linecap="round"/>
<polyline points="491.2,356.2 496.2,355.0 500.0,355.6" fill="none" stroke="#fff" stroke-width="1.1" stroke-linejoin="round" stroke-linecap="round"/>
<polyline points="498.4,340.3 499.4,336.6 504.1,333.8 510.6,331.9 518.1,333.8 527.5,333.8 530.3,328.1 529.4,323.4 535.9,321.6 542.5,319.7 547.2,318.8 551.9,321.6 556.6,324.4 562.2,323.4 566.9,328.1 571.6,332.8 577.2,335.6 581.9,338.4 583.8,340.3 587.5,337.5 593.1,334.7 600.6,333.8 608.1,330.9 611.9,330.0 614.7,332.8 619.4,334.7 626.9,335.6 634.4,337.5 640.0,337.5 645.6,335.6 649.4,338.4 653.1,336.6 655.9,330.9 657.8,326.3 662.5,324.8 667.2,326.3 670.0,331.9 672.8,336.6 677.5,340.3 683.1,342.2 685.6,343.1 683.1,347.8 680.3,350.6 679.4,354.4 678.1,357.2" fill="none" stroke="#fff" stroke-width="1.2" stroke-linejoin="round" stroke-linecap="round"/>
<polyline points="530.6,401.6 531.6,397.5 530.3,391.9 528.4,386.3 529.0,380.6 532.2,376.9 530.3,374.1 523.8,371.3 518.1,370.3 514.4,368.4" fill="none" stroke="#fff" stroke-width="1.2" stroke-linejoin="round" stroke-linecap="round"/>
<polyline points="244.1,441.9 245.4,447.5 250.6,451.3 254.4,455.0 253.4,460.6 247.8,462.5 248.8,470.0 245.0,475.6 242.2,481.3 243.1,486.9 247.8,490.6 252.5,491.6 258.1,488.8" fill="none" stroke="#fff" stroke-width="1.1" stroke-linejoin="round" stroke-linecap="round"/>
<polyline points="253.4,460.6 255.3,463.4 261.9,460.6 267.5,456.9 274.1,460.6 279.7,462.5 285.3,461.6 290.0,457.8" fill="none" stroke="#fff" stroke-width="1.1" stroke-linejoin="round" stroke-linecap="round"/>
<polyline points="267.5,456.9 269.4,452.2 271.3,449.4" fill="none" stroke="#fff" stroke-width="1.1" stroke-linejoin="round" stroke-linecap="round"/>
<polyline points="275.0,452.2 274.1,460.6" fill="none" stroke="#fff" stroke-width="1.1" stroke-linejoin="round" stroke-linecap="round"/>
<polyline points="280.6,454.1 279.7,462.5" fill="none" stroke="#fff" stroke-width="1.1" stroke-linejoin="round" stroke-linecap="round"/>
<polyline points="226.6,466.3 231.9,464.4 237.5,465.3 235.6,470.0 230.0,475.6 227.2,477.5" fill="none" stroke="#fff" stroke-width="1.1" stroke-linejoin="round" stroke-linecap="round"/>
<polyline points="237.5,465.3 245.0,468.1 248.8,470.0" fill="none" stroke="#fff" stroke-width="1.1" stroke-linejoin="round" stroke-linecap="round"/>
<polyline points="234.7,442.8 236.6,445.6" fill="none" stroke="#fff" stroke-width="1.1" stroke-linejoin="round" stroke-linecap="round"/>
<polyline points="252.5,491.3 250.6,498.8 249.7,508.1" fill="none" stroke="#fff" stroke-width="1.1" stroke-linejoin="round" stroke-linecap="round"/>
<polyline points="202.8,421.6 204.7,425.0 203.4,428.4" fill="none" stroke="#fff" stroke-width="1.1" stroke-linejoin="round" stroke-linecap="round"/>
<polyline points="207.5,426.9 208.4,430.3" fill="none" stroke="#fff" stroke-width="1.1" stroke-linejoin="round" stroke-linecap="round"/>
<polyline points="210.3,429.1 213.1,433.4 215.0,429.1" fill="none" stroke="#fff" stroke-width="1.1" stroke-linejoin="round" stroke-linecap="round"/>
<polyline points="213.1,433.4 218.8,434.4 219.7,436.3" fill="none" stroke="#fff" stroke-width="1.1" stroke-linejoin="round" stroke-linecap="round"/>
<polyline points="217.8,439.1 222.5,440.4" fill="none" stroke="#fff" stroke-width="1.1" stroke-linejoin="round" stroke-linecap="round"/>
<polyline points="224.4,443.4 224.8,445.6" fill="none" stroke="#fff" stroke-width="1.1" stroke-linejoin="round" stroke-linecap="round"/>
</svg><!--MAPEND-->

<div class="abs" id="title">Regional Insights, 2024</div>
<div class="abs" id="tms1a">Total Market Size:</div>
<div class="abs" id="tms1b"><b>USD 1.93</b></div>
<div class="abs" id="tms2"><b>Bn</b></div>

<div class="abs w" id="pct"><b>36.6%</b></div>
<div class="abs w" id="ap1a"><b>Asia Pacific</b></div>
<div class="abs w" id="ap1b">- Estimated</div>
<div class="abs w" id="ap2">Market Revenue Share,</div>
<div class="abs w" id="ap3">2024</div>
<div class="abs" id="hr"></div>
<div class="abs w" id="gl1">Global EPA and</div>
<div class="abs w" id="gl2">DHA Market</div>

<div class="abs lg" id="lgC">C</div>
<div class="abs lg" id="lgH">HERENT</div>
<div class="abs" id="lgM">MARKET INSIGHTS</div>
<svg class="abs" id="globe" width="40" height="40" viewBox="-20 -20 40 40"><path d="M-7.2,-4.2 L-4.2,-7.2 L-1.2000000000000002,-4.2 L-4.2,-1.2000000000000002Z" fill="#8cc24f" stroke="#8cc24f" stroke-width="0.8" stroke-linejoin="round"/><path d="M-7.2,4.2 L-4.2,1.2000000000000002 L-1.2000000000000002,4.2 L-4.2,7.2Z" fill="#8cc24f" stroke="#8cc24f" stroke-width="0.8" stroke-linejoin="round"/><path d="M1.2000000000000002,-4.2 L4.2,-7.2 L7.2,-4.2 L4.2,-1.2000000000000002Z" fill="#8cc24f" stroke="#8cc24f" stroke-width="0.8" stroke-linejoin="round"/><path d="M1.2000000000000002,4.2 L4.2,1.2000000000000002 L7.2,4.2 L4.2,7.2Z" fill="#8cc24f" stroke="#8cc24f" stroke-width="0.8" stroke-linejoin="round"/><path d="M-6.6,-11.4 L-3.7,-13.8 L-0.8000000000000003,-11.4 L-3.7,-9.0Z" fill="#3c7a99" stroke="#3c7a99" stroke-width="0.8" stroke-linejoin="round"/><path d="M-13.8,-3.8 L-11.4,-6.699999999999999 L-9.0,-3.8 L-11.4,-0.8999999999999999Z" fill="#3c7a99" stroke="#3c7a99" stroke-width="0.8" stroke-linejoin="round"/><path d="M-6.6,11.4 L-3.7,9.0 L-0.8000000000000003,11.4 L-3.7,13.8Z" fill="#3c7a99" stroke="#3c7a99" stroke-width="0.8" stroke-linejoin="round"/><path d="M-13.8,3.8 L-11.4,0.8999999999999999 L-9.0,3.8 L-11.4,6.699999999999999Z" fill="#3c7a99" stroke="#3c7a99" stroke-width="0.8" stroke-linejoin="round"/><path d="M0.8000000000000003,-11.4 L3.7,-13.8 L6.6,-11.4 L3.7,-9.0Z" fill="#3c7a99" stroke="#3c7a99" stroke-width="0.8" stroke-linejoin="round"/><path d="M9.0,-3.8 L11.4,-6.699999999999999 L13.8,-3.8 L11.4,-0.8999999999999999Z" fill="#3c7a99" stroke="#3c7a99" stroke-width="0.8" stroke-linejoin="round"/><path d="M0.8000000000000003,11.4 L3.7,9.0 L6.6,11.4 L3.7,13.8Z" fill="#3c7a99" stroke="#3c7a99" stroke-width="0.8" stroke-linejoin="round"/><path d="M9.0,3.8 L11.4,0.8999999999999999 L13.8,3.8 L11.4,6.699999999999999Z" fill="#3c7a99" stroke="#3c7a99" stroke-width="0.8" stroke-linejoin="round"/><rect x="-2.2" y="-1.1" width="4.4" height="2.2" rx="0.8" fill="#b02e63" transform="translate(-10.6,-10.3) rotate(-45.8)"/><rect x="-2.2" y="-1.0" width="4.4" height="2.0" rx="0.8" fill="#5e3a66" transform="translate(-3.2,-16.2) rotate(-11.2)"/><rect x="-2.2" y="-1.0" width="4.4" height="2.0" rx="0.8" fill="#5e3a66" transform="translate(-16.4,-3.1) rotate(-79.3)"/><rect x="-2.2" y="-1.1" width="4.4" height="2.2" rx="0.8" fill="#b02e63" transform="translate(-10.6,10.3) rotate(225.8)"/><rect x="-2.2" y="-1.0" width="4.4" height="2.0" rx="0.8" fill="#5e3a66" transform="translate(-3.2,16.2) rotate(191.2)"/><rect x="-2.2" y="-1.0" width="4.4" height="2.0" rx="0.8" fill="#5e3a66" transform="translate(-16.4,3.1) rotate(259.3)"/><rect x="-2.2" y="-1.1" width="4.4" height="2.2" rx="0.8" fill="#b02e63" transform="translate(10.6,-10.3) rotate(45.8)"/><rect x="-2.2" y="-1.0" width="4.4" height="2.0" rx="0.8" fill="#5e3a66" transform="translate(3.2,-16.2) rotate(11.2)"/><rect x="-2.2" y="-1.0" width="4.4" height="2.0" rx="0.8" fill="#5e3a66" transform="translate(16.4,-3.1) rotate(79.3)"/><rect x="-2.2" y="-1.1" width="4.4" height="2.2" rx="0.8" fill="#b02e63" transform="translate(10.6,10.3) rotate(134.2)"/><rect x="-2.2" y="-1.0" width="4.4" height="2.0" rx="0.8" fill="#5e3a66" transform="translate(3.2,16.2) rotate(168.8)"/><rect x="-2.2" y="-1.0" width="4.4" height="2.0" rx="0.8" fill="#5e3a66" transform="translate(16.4,3.1) rotate(100.7)"/></svg>
<div class="abs" id="lg1"></div>
<div class="abs" id="lt1"><b>Dominant Region</b></div>
<div class="abs" id="lg2"></div>
<div class="abs" id="lt2"><b>Fastest Growing Region</b></div>
<div class="abs" id="srca"><b>Source:</b></div>
<div class="abs" id="srcb">Primary Research, Desk Research, Paid subscriptions, CMI Data Repository</div>

<div class="abs" id="strip"></div>
<div class="abs" id="br1"></div>
<div class="abs" id="br2"></div>
<div class="abs" id="bt"></div>
<div class="abs" id="bl"></div>
<div class="abs" id="bb"></div>
<div class="abs" id="bb2"></div>
</body>
</html>
